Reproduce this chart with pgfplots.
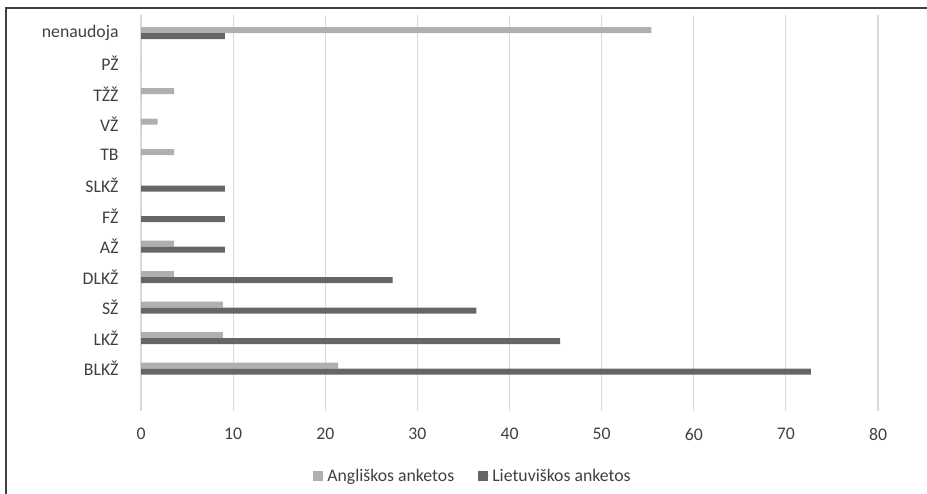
\documentclass[border=0pt]{standalone}
\usepackage{fontspec}
\setmainfont{Carlito}
\usepackage{pgfplots}
\pgfplotsset{compat=1.18}
\definecolor{barA}{HTML}{AFAFAF}
\definecolor{barL}{HTML}{666666}
\definecolor{gridc}{HTML}{D9D9D9}
\definecolor{txt}{HTML}{404040}
\begin{document}
\begin{tikzpicture}[font=\fontsize{17.8}{21}\selectfont]
\useasboundingbox (0,0) rectangle (927bp,494bp);
\draw[color=txt, line width=1.2bp] (6bp,0) -- (6bp,486bp) -- (927bp,486bp);
\begin{axis}[
  at={(141bp,83bp)}, anchor=south west,
  scale only axis, width=737bp, height=396bp,
  xmin=0, xmax=80, ymin=-1.386, ymax=11.59,
  xbar, bar width=6bp,
  xtick={0,10,...,80},
  ytick={0,...,11},
  yticklabels={BLKŽ,LKŽ,SŽ,DLKŽ,AŽ,FŽ,SLKŽ,TB,VŽ,TŽŽ,PŽ,nenaudoja},
  xmajorgrids, ymajorgrids=false,
  major grid style={gridc, line width=1.2bp},
  axis line style={draw=none},
  tick style={draw=none},
  /pgf/number format/assume math mode=true,
  ticklabel style={font=\fontsize{17.8}{21}\selectfont, text=txt},
  yticklabel style={inner sep=0pt, xshift=-18bp},
  xticklabel style={inner sep=0pt, yshift=-17bp},
  legend style={draw=none, fill=none, at={(0.4505,-0.164)}, anchor=center,
    legend columns=2, font=\fontsize{17.8}{21}\selectfont, text=txt,
    /tikz/every even column/.append style={column sep=22bp},
    nodes={inner sep=2bp}},
  legend image code/.code={\fill[#1] (0bp,-5bp) rectangle (10bp,5bp); \path (0bp,0) -- (12bp,0);},
]
\addplot[fill=barA, draw=none, bar shift=3bp] coordinates {
  (21.4,0) (8.9,1) (8.9,2) (3.6,3) (3.6,4) (0,5) (0,6) (3.6,7) (1.8,8) (3.6,9) (0,10) (55.4,11)};
\addlegendentry{Angliškos anketos}
\addplot[fill=barL, draw=none, bar shift=-3bp] coordinates {
  (72.7,0) (45.5,1) (36.4,2) (27.3,3) (9.1,4) (9.1,5) (9.1,6) (0,7) (0,8) (0,9) (0,10) (9.1,11)};
\addlegendentry{Lietuviškos anketos}
\end{axis}
\end{tikzpicture}
\end{document}
